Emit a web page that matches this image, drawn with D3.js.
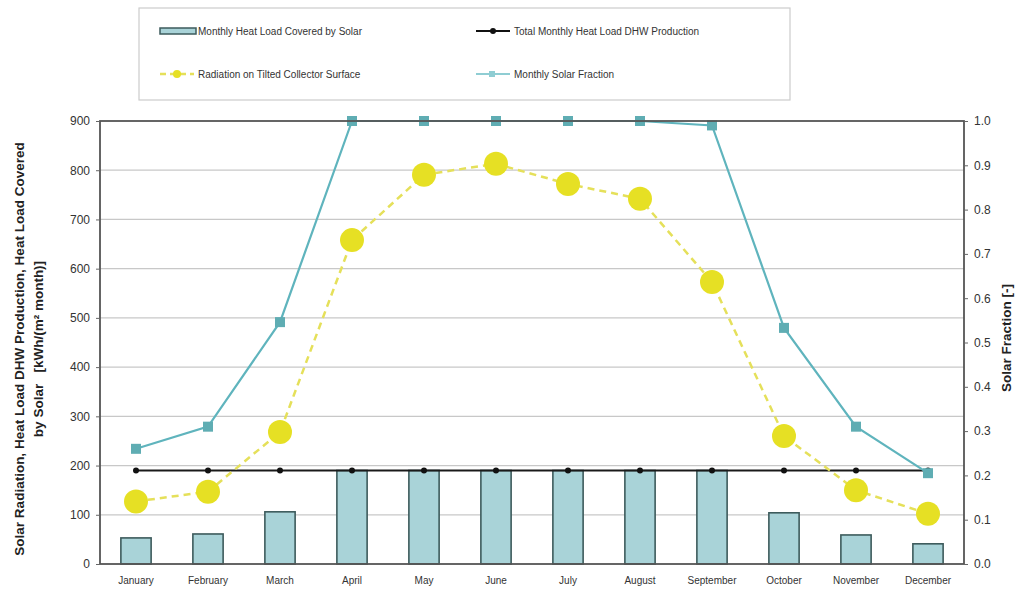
<!DOCTYPE html>
<html><head><meta charset="utf-8">
<script src="https://cdn.jsdelivr.net/npm/d3@7"></script>
<style>body{margin:0;background:#fff;font-family:Arial,"Liberation Sans",sans-serif}</style>
</head><body><svg id="c" width="1029" height="589"></svg>
<script>
const months=["January","February","March","April","May","June","July","August","September","October","November","December"];
const heatCovered=[53,61,106,190,190,190,190,190,190,104,59,41];
const totalLoad=[190,190,190,190,190,190,190,190,190,190,190,190];
const radiation=[127,147,268,658,791,813,772,742,573,260,150,102];
const solarFraction=[0.26,0.31,0.546,1.0,1.0,1.0,1.0,1.0,0.99,0.533,0.31,0.205];
const leftTicks=[0,100,200,300,400,500,600,700,800,900];
const rightTicks=[0,0.1,0.2,0.3,0.4,0.5,0.6,0.7,0.8,0.9,1.0];

const svg=d3.select("#c");
const L=100,R=964,T=121,B=564;
const x=d3.scaleBand().domain(months).range([L,R]);
const y=d3.scaleLinear().domain([0,900]).range([B,T]);
const y2=d3.scaleLinear().domain([0,1]).range([B,T]);
const cx=m=>x(m)+x.bandwidth()/2;

// gridlines
svg.append("g").selectAll("line").data(leftTicks.slice(1,-1)).join("line")
 .attr("x1",L).attr("x2",R).attr("y1",d=>y(d)).attr("y2",d=>y(d))
 .attr("stroke","#c8c8c8").attr("stroke-width",1.2);

// bars
const bw=x.bandwidth()*0.42;
svg.append("g").selectAll("rect").data(months).join("rect")
 .attr("x",m=>cx(m)-bw/2).attr("width",bw)
 .attr("y",(m,i)=>y(heatCovered[i])).attr("height",(m,i)=>B-y(heatCovered[i]))
 .attr("fill","#a9d3d8").attr("stroke","#3d5b5c").attr("stroke-width",1.6);

// total load line
const line=d3.line();
svg.append("path").attr("d",line(months.map((m,i)=>[cx(m),y(totalLoad[i])])))
 .attr("fill","none").attr("stroke","#1a1a1a").attr("stroke-width",2.2);
svg.append("g").selectAll("circle").data(months).join("circle")
 .attr("cx",cx).attr("cy",(m,i)=>y(totalLoad[i])).attr("r",3).attr("fill","#111");

// radiation
svg.append("path").attr("d",line(months.map((m,i)=>[cx(m),y(radiation[i])])))
 .attr("fill","none").attr("stroke","#e5e05a").attr("stroke-width",2.5).attr("stroke-dasharray","7,5");
svg.append("g").selectAll("circle").data(months).join("circle")
 .attr("cx",cx).attr("cy",(m,i)=>y(radiation[i])).attr("r",12).attr("fill","#e6e024");

// solar fraction
svg.append("path").attr("d",line(months.map((m,i)=>[cx(m),y2(solarFraction[i])])))
 .attr("fill","none").attr("stroke","#5fb4bd").attr("stroke-width",2.2);
svg.append("g").selectAll("rect").data(months).join("rect")
 .attr("x",m=>cx(m)-5).attr("y",(m,i)=>y2(solarFraction[i])-5).attr("width",10).attr("height",10)
 .attr("fill","#5fadb3");

// frame
svg.append("rect").attr("x",L).attr("y",T).attr("width",R-L).attr("height",B-T)
 .attr("fill","none").attr("stroke","#555").attr("stroke-width",1.8);

// axes
const ax=svg.append("g").attr("transform",`translate(${L},0)`)
 .call(d3.axisLeft(y).tickValues(leftTicks).tickSize(4).tickPadding(6).tickFormat(d3.format("d")));
const ax2=svg.append("g").attr("transform",`translate(${R},0)`)
 .call(d3.axisRight(y2).tickValues(rightTicks).tickSize(4).tickPadding(6).tickFormat(d3.format(".1f")));
const axb=svg.append("g").attr("transform",`translate(0,${B})`)
 .call(d3.axisBottom(x).tickSize(0).tickPadding(13));
[ax,ax2,axb].forEach(g=>{g.select(".domain").remove();
 g.selectAll("text").attr("fill","#333").style("font-family","Arial,'Liberation Sans',sans-serif");
 g.selectAll("line").attr("stroke","#666");});
ax.selectAll("text").style("font-size","12px");
ax2.selectAll("text").style("font-size","12px");
axb.selectAll("text").style("font-size","10px");

// axis titles
const lt=svg.append("text").attr("transform","translate(24,349) rotate(-90)")
 .attr("text-anchor","middle").style("font-size","13.5px").style("font-weight","bold").attr("fill","#222")
 .style("white-space","pre").attr("xml:space","preserve");
lt.append("tspan").attr("x",0).attr("dy",0).text("Solar Radiation, Heat Load DHW Production, Heat Load Covered");
lt.append("tspan").attr("x",0).attr("dy",19).text("by Solar   [kWh/(m\u00B2 month)]");
svg.append("text").attr("transform","translate(1011,338) rotate(-90)")
 .attr("text-anchor","middle").style("font-size","13.5px").style("font-weight","bold").attr("fill","#222")
 .text("Solar Fraction [-]");

// legend
const lg=svg.append("g");
lg.append("rect").attr("x",139).attr("y",8).attr("width",651).attr("height",92)
 .attr("fill","#fff").attr("stroke","#ccc").attr("stroke-width",1.2);
const legendItems=[
 {t:"Monthly Heat Load Covered by Solar",x:160,y:31,k:"bar"},
 {t:"Total Monthly Heat Load DHW Production",x:476,y:31,k:"total"},
 {t:"Radiation on Tilted Collector Surface",x:160,y:74,k:"rad"},
 {t:"Monthly Solar Fraction",x:476,y:74,k:"frac"}];
legendItems.forEach(d=>{
 const g=lg.append("g").attr("transform",`translate(${d.x},${d.y})`);
 if(d.k==="bar") g.append("rect").attr("x",0).attr("y",-3).attr("width",36).attr("height",6).attr("fill","#a9d3d8").attr("stroke","#3d5b5c").attr("stroke-width",1.5);
 if(d.k==="total"){g.append("line").attr("x1",0).attr("x2",34).attr("stroke","#111").attr("stroke-width",2);g.append("circle").attr("cx",17).attr("r",3).attr("fill","#111");}
 if(d.k==="rad"){g.append("line").attr("x1",0).attr("x2",34).attr("stroke","#e5e05a").attr("stroke-width",2.5).attr("stroke-dasharray","6,4");g.append("circle").attr("cx",17).attr("r",4).attr("fill","#e6e024");}
 if(d.k==="frac"){g.append("line").attr("x1",0).attr("x2",34).attr("stroke","#8fcdd3").attr("stroke-width",2);g.append("rect").attr("x",13).attr("y",-3).attr("width",6).attr("height",6).attr("fill","#8fcdd3");}
 g.append("text").attr("x",38).attr("y",4).style("font-size","10px").attr("fill","#333").text(d.t);
});
</script></body></html>
